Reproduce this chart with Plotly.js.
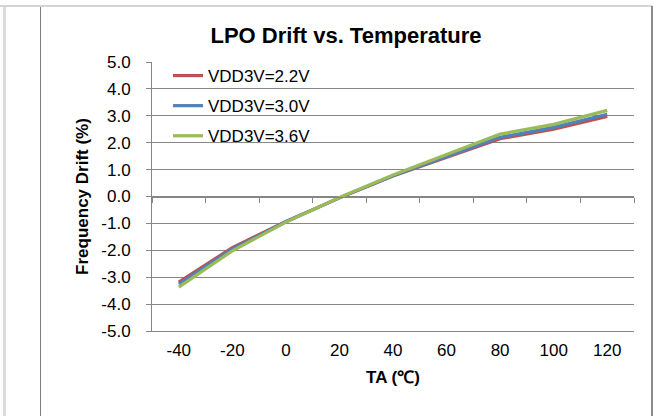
<!DOCTYPE html>
<html>
<head>
<meta charset="utf-8">
<script src="https://cdn.plot.ly/plotly-3.0.1.min.js"></script>
<style>
  html, body { margin: 0; padding: 0; background: #fff; }
  #wrap { position: relative; width: 658px; height: 416px; overflow: hidden; }
  #chart { position: absolute; left: 0; top: 0; width: 658px; height: 416px; }
  .fr { position: absolute; pointer-events: none; }
</style>
</head>
<body>
<div id="wrap">
  <div id="chart"></div>
  <div class="fr" style="left:0;top:5px;width:652px;height:2px;background:#d4d4d4;"></div>
  <div class="fr" style="left:3px;top:7px;width:3px;height:409px;background:#dcdcdc;"></div>
  <div class="fr" style="left:40px;top:7px;width:1px;height:409px;background:#7f7f7f;"></div>
  <div class="fr" style="left:651px;top:6px;width:2px;height:410px;background:#8c8c8c;"></div>
</div>
<script>
const temps = [-40, -20, 0, 20, 40, 60, 80, 100, 120];
const tickLabels = ['-40', '-20', '0', '20', '40', '60', '80', '100', '120'];
const catBounds = [-50, -30, -10, 10, 30, 50, 70, 90, 110, 130];
const seriesNames = ['VDD3V=2.2V', 'VDD3V=3.0V', 'VDD3V=3.6V'];
const drift22 = [-3.18, -1.90, -0.93, -0.05, 0.76, 1.46, 2.15, 2.50, 2.98];
const drift30 = [-3.26, -1.95, -0.94, -0.05, 0.77, 1.50, 2.20, 2.57, 3.06];
const drift36 = [-3.37, -2.02, -0.95, -0.04, 0.80, 1.55, 2.32, 2.68, 3.20];
const yTicks = [5, 4, 3, 2, 1, 0, -1, -2, -3, -4, -5];
const yTickText = ['5.0', '4.0', '3.0', '2.0', '1.0', '0.0', '-1.0', '-2.0', '-3.0', '-4.0', '-5.0'];

const colors = ['#C0504D', '#4F81BD', '#9BBB59'];
const allSeries = [drift22, drift30, drift36];

const traces = allSeries.map((ys, i) => ({
  type: 'scatter',
  mode: 'lines',
  x: temps,
  y: ys,
  name: seriesNames[i],
  legendgroup: 'g' + i,
  line: { color: colors[i], width: 3.2 },
  xaxis: 'x',
  yaxis: 'y'
}));

traces.push({
  type: 'scatter', mode: 'lines', x: [], y: [], xaxis: 'x2', yaxis: 'y',
  showlegend: false, hoverinfo: 'skip'
});

const gray = '#868686';
const font = 'Liberation Sans, Arial, sans-serif';

const layout = {
  width: 658,
  height: 416,
  margin: { l: 152, r: 24, t: 62, b: 85 },
  paper_bgcolor: 'rgba(0,0,0,0)',
  plot_bgcolor: 'rgba(0,0,0,0)',
  font: { family: font, size: 17, color: '#000' },
  title: {
    text: '<b>LPO Drift vs. Temperature</b>',
    font: { family: font, size: 22, color: '#000' },
    x: 346 / 658, xanchor: 'center', xref: 'container',
    y: 1 - 35 / 416, yanchor: 'middle', yref: 'container'
  },
  showlegend: true,
  legend: {
    x: (168 - 152) / (658 - 176), xanchor: 'left',
    y: 1 + 4 / 269, yanchor: 'top',
    bgcolor: 'rgba(0,0,0,0)',
    borderwidth: 0,
    traceorder: 'grouped',
    tracegroupgap: 5,
    font: { family: font, size: 17, color: '#000' }
  },
  xaxis: {
    type: 'linear',
    range: [-50, 130],
    tickvals: temps,
    ticktext: tickLabels,
    ticks: '',
    showgrid: false,
    zeroline: false,
    showline: true,
    linecolor: gray,
    linewidth: 1,
    ticklabelstandoff: 4,
    tickfont: { family: font, size: 17, color: '#000' },
    title: { text: '<b>TA (℃)</b>', font: { family: font, size: 17, color: '#000' }, standoff: 11 }
  },
  xaxis2: {
    type: 'linear',
    range: [-50, 130],
    overlaying: 'x',
    anchor: 'free',
    position: 0.5,
    side: 'bottom',
    tickvals: catBounds,
    showticklabels: false,
    ticks: 'outside',
    ticklen: 5,
    tickwidth: 1,
    tickcolor: gray,
    showline: true,
    linecolor: gray,
    linewidth: 1,
    showgrid: false,
    zeroline: false
  },
  yaxis: {
    range: [-5, 5],
    tickvals: yTicks,
    ticktext: yTickText,
    ticks: 'outside',
    ticklen: 5,
    tickcolor: gray,
    showline: true,
    linecolor: gray,
    linewidth: 1,
    showgrid: true,
    gridcolor: gray,
    gridwidth: 1,
    zeroline: false,
    ticklabelstandoff: 12,
    tickfont: { family: font, size: 17, color: '#000' },
    title: { text: '<b>Frequency Drift (%)</b>', font: { family: font, size: 17, color: '#000' }, standoff: 8 }
  }
};

Plotly.newPlot('chart', traces, layout, { displayModeBar: false, staticPlot: true });
</script>
</body>
</html>
